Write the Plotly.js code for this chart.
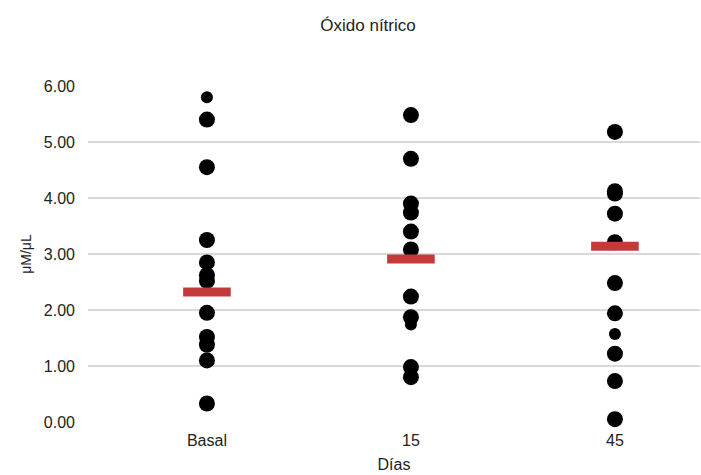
<!DOCTYPE html>
<html><head><meta charset="utf-8">
<script src="https://cdn.plot.ly/plotly-3.0.1.min.js"></script>
<style>html,body{margin:0;padding:0;background:#fff}</style>
</head><body>
<div id="chart" style="width:701px;height:475px"></div>
<script>
const categories = ["Basal", "15", "45"];
const basal = [5.80, 5.40, 4.55, 3.25, 2.85, 2.62, 2.52, 1.95, 1.52, 1.38, 1.10, 0.33];
const dia15 = [5.48, 4.70, 3.90, 3.74, 3.40, 3.08, 2.24, 1.87, 1.74, 0.98, 0.80];
const dia45 = [5.18, 4.12, 4.08, 3.72, 3.21, 2.48, 1.94, 1.57, 1.22, 0.73, 0.05];
const medias = [2.32, 2.91, 3.14];
const yTicks = [0, 1, 2, 3, 4, 5, 6];
const yTickText = ["0.00", "1.00", "2.00", "3.00", "4.00", "5.00", "6.00"];

const series = [basal, dia15, dia45];
const smallIdx = [[0], [8], [7]];
const traces = series.map((vals, k) => ({
  type: "scatter", mode: "markers",
  x: vals.map(() => categories[k]), y: vals,
  marker: {color: "#000", opacity: 1, line: {width: 0},
           size: vals.map((v, i) => smallIdx[k].includes(i) ? 12 : 16)},
  opacity: 1, cliponaxis: false, hoverinfo: "y", showlegend: false
}));
traces.push({
  type: "scatter", mode: "markers", x: categories, y: medias,
  marker: {symbol: "line-ew-open", size: 34, color: "#c43a3a", line: {width: 9, color: "#c43a3a"}},
  cliponaxis: false, showlegend: false
});

const layout = {
  width: 701, height: 475,
  margin: {l: 88, r: 1, t: 86, b: 53},
  paper_bgcolor: "#fff", plot_bgcolor: "#fff",
  font: {family: "Liberation Sans, Arial, sans-serif", color: "#222", size: 16},
  title: {text: "Óxido nítrico", font: {size: 17, color: "#222"}, x: 0.525, xanchor: "center", y: 0.947, yanchor: "middle"},
  xaxis: {
    type: "category", range: [-0.583, 2.417],
    showgrid: false, zeroline: false, showline: false, ticks: "",
    ticklabelstandoff: 7, tickfont: {size: 16},
    title: {text: "Días", font: {size: 16}, standoff: 10}
  },
  yaxis: {
    range: [0, 6], tickvals: yTicks, ticktext: yTickText,
    showgrid: true, gridcolor: "#d9d9d9", gridwidth: 2,
    zeroline: false, showline: false, ticks: "",
    ticklabelstandoff: 12, tickfont: {size: 16},
    title: {text: "μM/μL", font: {size: 14}, standoff: 8}
  }
};
Plotly.newPlot("chart", traces, layout, {displayModeBar: false, staticPlot: true});
</script>
</body></html>
